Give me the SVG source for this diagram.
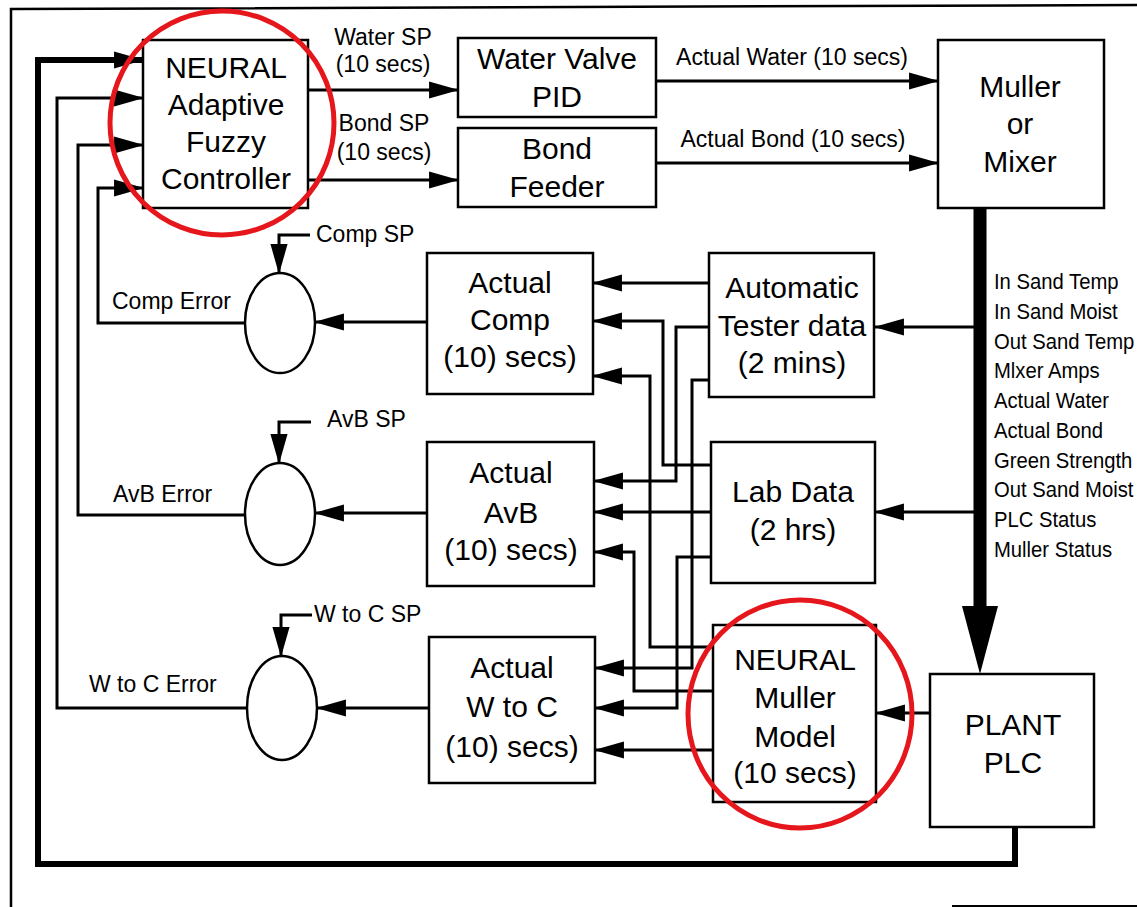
<svg xmlns="http://www.w3.org/2000/svg" width="1137" height="907" viewBox="0 0 1137 907">
<style>
text{font-family:"Liberation Sans",Arial,Helvetica,sans-serif;fill:#000}
.bt{font-size:30px;text-anchor:middle}
.lb{font-size:23px}
.lc{font-size:23px;text-anchor:middle}
.sg{font-size:22.5px}
.box{fill:#fff;stroke:#000;stroke-width:2.5}
.ell{fill:#fff;stroke:#000;stroke-width:2.5}
.ln{fill:none;stroke:#000;stroke-width:3}
.thk{fill:none;stroke:#000;stroke-width:6}
.red{fill:none;stroke:#e5161c;stroke-width:5}
</style>
<defs>
<marker id="ah" markerUnits="userSpaceOnUse" markerWidth="30" markerHeight="18" refX="27" refY="8" orient="auto" viewBox="0 0 28 16">
<path d="M0,0 L28,8 L0,16 z" fill="#000"/>
</marker>
</defs>
<rect width="1137" height="907" fill="#fff"/>
<g id="border">
<polyline points="11,907 11,9 1137,5" fill="none" stroke="#000" stroke-width="2.5"/>
<line x1="952" y1="906" x2="1137" y2="906" stroke="#000" stroke-width="2"/>
</g>
<g id="connectors">
<path class="thk" d="M1015,827 V864 H38 V60 H143" marker-end="url(#ah)"/>
<path class="ln" d="M248,708 H57 V98 H143" marker-end="url(#ah)"/>
<path class="ln" d="M245,515 H78 V145 H143" marker-end="url(#ah)"/>
<path class="ln" d="M245,323 H98 V188 H143" marker-end="url(#ah)"/>
<path class="ln" d="M308,90 H458" marker-end="url(#ah)"/>
<path class="ln" d="M308,180 H458" marker-end="url(#ah)"/>
<path class="ln" d="M656,81 H938" marker-end="url(#ah)"/>
<path class="ln" d="M656,163 H938" marker-end="url(#ah)"/>
<path d="M980,208 V612" fill="none" stroke="#000" stroke-width="13"/>
<polygon points="962,606 998,606 980,674" fill="#000"/>
<path class="ln" d="M975,327 H875" marker-end="url(#ah)"/>
<path class="ln" d="M975,512 H875" marker-end="url(#ah)"/>
<path class="ln" d="M930,713 H876" marker-end="url(#ah)"/>
<path class="ln" d="M310,235 H279 V273" marker-end="url(#ah)"/>
<path class="ln" d="M311,422 H279 V463" marker-end="url(#ah)"/>
<path class="ln" d="M312,615 H281 V656" marker-end="url(#ah)"/>
<path class="ln" d="M427,322 H315" marker-end="url(#ah)"/>
<path class="ln" d="M427,513 H315" marker-end="url(#ah)"/>
<path class="ln" d="M429,708 H317" marker-end="url(#ah)"/>
<path class="ln" d="M709,283 H593" marker-end="url(#ah)"/>
<path class="ln" d="M711,465 H663 V321 H593" marker-end="url(#ah)"/>
<path class="ln" d="M713,647 H650 V376 H593" marker-end="url(#ah)"/>
<path class="ln" d="M709,327 H676 V481 H594" marker-end="url(#ah)"/>
<path class="ln" d="M711,512 H594" marker-end="url(#ah)"/>
<path class="ln" d="M713,691 H634 V552 H594" marker-end="url(#ah)"/>
<path class="ln" d="M709,380 H692 V668 H595" marker-end="url(#ah)"/>
<path class="ln" d="M711,557 H677 V708 H595" marker-end="url(#ah)"/>
<path class="ln" d="M713,750 H595" marker-end="url(#ah)"/>
</g>
<g id="labels">
<text class="lc" x="383" y="45">Water SP</text>
<text class="lc" x="383" y="72">(10 secs)</text>
<text class="lc" x="384" y="131">Bond SP</text>
<text class="lc" x="384" y="160">(10 secs)</text>
<text class="lc" x="792" y="65">Actual Water (10 secs)</text>
<text class="lc" x="793" y="147">Actual Bond (10 secs)</text>
<text class="lb" x="316" y="242">Comp SP</text>
<text class="lb" x="327" y="427">AvB SP</text>
<text class="lb" x="314" y="622">W to C SP</text>
<text class="lb" x="112" y="309">Comp Error</text>
<text class="lb" x="113" y="502">AvB Error</text>
<text class="lb" x="89" y="692">W to C Error</text>
</g>
<g id="signals" transform="translate(994,0) scale(0.9,1)">
<text class="sg" x="0" y="289">In Sand Temp</text>
<text class="sg" x="0" y="319">In Sand Moist</text>
<text class="sg" x="0" y="349">Out Sand Temp</text>
<text class="sg" x="0" y="378">Mlxer Amps</text>
<text class="sg" x="0" y="408">Actual Water</text>
<text class="sg" x="0" y="438">Actual Bond</text>
<text class="sg" x="0" y="468">Green Strength</text>
<text class="sg" x="0" y="497">Out Sand Moist</text>
<text class="sg" x="0" y="527">PLC Status</text>
<text class="sg" x="0" y="557">Muller Status</text>
</g>
<g id="neural-controller">
<rect class="box" x="143" y="40" width="165" height="168"/>
<text class="bt" x="226" y="78">NEURAL</text>
<text class="bt" x="226" y="115">Adaptive</text>
<text class="bt" x="226" y="152">Fuzzy</text>
<text class="bt" x="226" y="189">Controller</text>
</g>
<g id="water-valve">
<rect class="box" x="458" y="38" width="198" height="79"/>
<text class="bt" x="557" y="69">Water Valve</text>
<text class="bt" x="557" y="107">PID</text>
</g>
<g id="bond-feeder">
<rect class="box" x="458" y="128" width="198" height="79"/>
<text class="bt" x="557" y="159">Bond</text>
<text class="bt" x="557" y="197">Feeder</text>
</g>
<g id="muller">
<rect class="box" x="938" y="40" width="166" height="168"/>
<text class="bt" x="1020" y="97">Muller</text>
<text class="bt" x="1020" y="134">or</text>
<text class="bt" x="1020" y="172">Mixer</text>
</g>
<g id="comp-sum"><ellipse class="ell" cx="280" cy="323" rx="35" ry="50"/></g>
<g id="avb-sum"><ellipse class="ell" cx="280" cy="514" rx="35" ry="51"/></g>
<g id="wtoc-sum"><ellipse class="ell" cx="282" cy="708" rx="35" ry="52"/></g>
<g id="actual-comp">
<rect class="box" x="427" y="253" width="166" height="141"/>
<text class="bt" x="510" y="293">Actual</text>
<text class="bt" x="510" y="330">Comp</text>
<text class="bt" x="510" y="367">(10) secs)</text>
</g>
<g id="tester">
<rect class="box" x="709" y="253" width="165" height="144"/>
<text class="bt" x="792" y="298">Automatic</text>
<text class="bt" x="792" y="336">Tester data</text>
<text class="bt" x="792" y="373">(2 mins)</text>
</g>
<g id="actual-avb">
<rect class="box" x="427" y="442" width="167" height="144"/>
<text class="bt" x="511" y="483">Actual</text>
<text class="bt" x="511" y="523">AvB</text>
<text class="bt" x="511" y="560">(10) secs)</text>
</g>
<g id="lab">
<rect class="box" x="711" y="442" width="164" height="141"/>
<text class="bt" x="793" y="502">Lab Data</text>
<text class="bt" x="793" y="540">(2 hrs)</text>
</g>
<g id="actual-wtoc">
<rect class="box" x="429" y="637" width="166" height="146"/>
<text class="bt" x="512" y="678">Actual</text>
<text class="bt" x="512" y="717">W to C</text>
<text class="bt" x="512" y="757">(10) secs)</text>
</g>
<g id="neural-model">
<rect class="box" x="713" y="625" width="163" height="177"/>
<text class="bt" x="795" y="670">NEURAL</text>
<text class="bt" x="795" y="708">Muller</text>
<text class="bt" x="795" y="747">Model</text>
<text class="bt" x="795" y="783">(10 secs)</text>
</g>
<g id="plant">
<rect class="box" x="930" y="674" width="164" height="153"/>
<text class="bt" x="1013" y="735">PLANT</text>
<text class="bt" x="1013" y="773">PLC</text>
</g>
<g id="highlights">
<ellipse class="red" cx="222" cy="123" rx="112" ry="112"/>
<ellipse class="red" cx="800" cy="714" rx="112" ry="114"/>
</g>
</svg>
